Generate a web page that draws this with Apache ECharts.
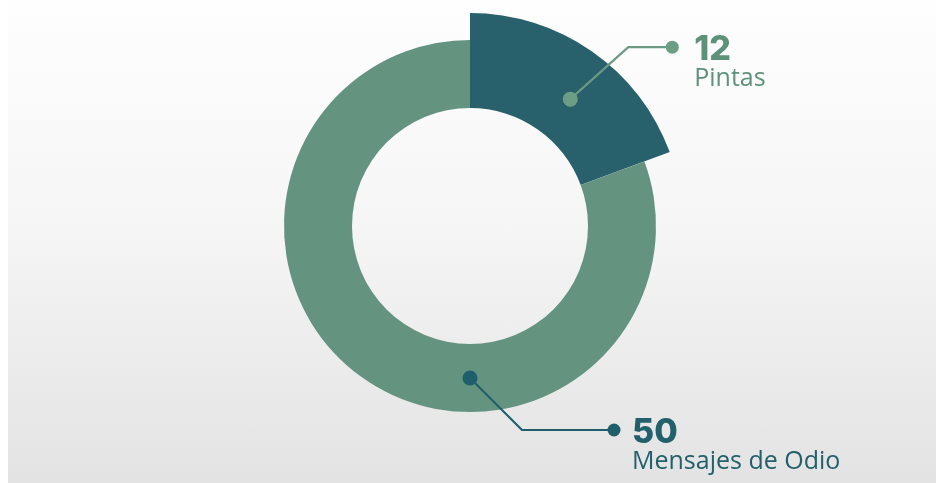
<!DOCTYPE html>
<html>
<head>
<meta charset="utf-8">
<script src="https://cdn.jsdelivr.net/npm/echarts@6/dist/echarts.min.js"></script>
<style>
  html, body { margin: 0; padding: 0; background: #ffffff; }
  #bg { position: absolute; left: 8px; right: 7px; top: 0; bottom: 0;
        background: linear-gradient(to bottom, #fefefe 0%, #f6f6f6 45%, #e3e3e3 100%); }
  #chart { position: absolute; left: 0; top: 0; width: 943px; height: 483px; }
</style>
</head>
<body>
<div id="bg"></div>
<div id="chart"></div>
<script>
// ---- data ----
const categories = ['Pintas', 'Mensajes de Odio'];
const values = [12, 50];

// ---- style ----
const sliceColors = ['#28606C', '#64947F'];
const labelColors = ['#5E9179', '#22606B'];
const lineColors = ['#6A9A83', '#1F5F6C'];
const dotColors = ['#6C9D85', '#1F5F6C'];
const cx = 470, cy = 226;
const rIn = 118, rOut = [213, 186];
const anchorFrac = [0.55, 0.38];      // where along each slice the leader starts
const anchorRadFrac = [0.46, 0.5];
const leg1 = [[58, -52], [52, 52]];
const leg2 = [44, 92];
const labelGap = [22, 18];

const total = values.reduce((a, b) => a + b, 0);
const starts = [];
let acc = 0;
values.forEach(v => { starts.push(acc / total * 360); acc += v; });
function polar(deg, r) {
  const a = deg * Math.PI / 180;
  return [cx + r * Math.sin(a), cy - r * Math.cos(a)];
}
function geom(i) {
  const span = values[i] / total * 360;
  const ang = starts[i] + span * anchorFrac[i];
  const r = rIn + (rOut[i] - rIn) * anchorRadFrac[i];
  const p0 = polar(ang, r);
  const p1 = [p0[0] + leg1[i][0], p0[1] + leg1[i][1]];
  const p2 = [p1[0] + leg2[i], p1[1]];
  return [p0, p1, p2];
}

const chart = echarts.init(document.getElementById('chart'), null, { renderer: 'canvas' });

function seriesFor(k) {
  return {
    type: 'pie',
    center: [cx, cy],
    radius: [rIn, rOut[k]],
    startAngle: 90,
    clockwise: true,
    silent: true,
    animation: false,
    avoidLabelOverlap: false,
    label: { show: false },
    labelLine: { show: false },
    data: categories.map((name, i) => {
      const visible = i === k;
      return {
        name: name,
        value: values[i],
        itemStyle: { color: visible ? sliceColors[i] : 'rgba(0,0,0,0)' },
        label: visible ? {
          show: true,
          position: 'outside',
          formatter: '{v|{c}}\n{n|{b}}',
          rich: {
            v: { fontFamily: 'Inter', fontWeight: 800, fontSize: 34, lineHeight: 34, color: labelColors[i] },
            n: { fontFamily: 'Open Sans', fontWeight: 400, fontSize: 25, lineHeight: 24, color: labelColors[i] }
          }
        } : { show: false },
        labelLine: { show: false }
      };
    }),
    labelLayout: function (params) {
      const i = params.dataIndex;
      const g = geom(i);
      return {
        x: g[2][0] + labelGap[i],
        y: g[2][1] - 14,
        align: 'left',
        verticalAlign: 'top'
      };
    }
  };
}

const graphics = [];
categories.forEach((c, i) => {
  const g = geom(i);
  graphics.push({ type: 'polyline', z: 100, shape: { points: g }, style: { stroke: lineColors[i], lineWidth: 2.2, fill: null } });
  graphics.push({ type: 'circle', z: 101, shape: { cx: g[0][0], cy: g[0][1], r: 7.5 }, style: { fill: dotColors[i] } });
  graphics.push({ type: 'circle', z: 101, shape: { cx: g[2][0], cy: g[2][1], r: 6.5 }, style: { fill: dotColors[i] } });
});

chart.setOption({
  backgroundColor: 'transparent',
  animation: false,
  series: [seriesFor(0), seriesFor(1)],
  graphic: graphics
});
</script>
</body>
</html>
